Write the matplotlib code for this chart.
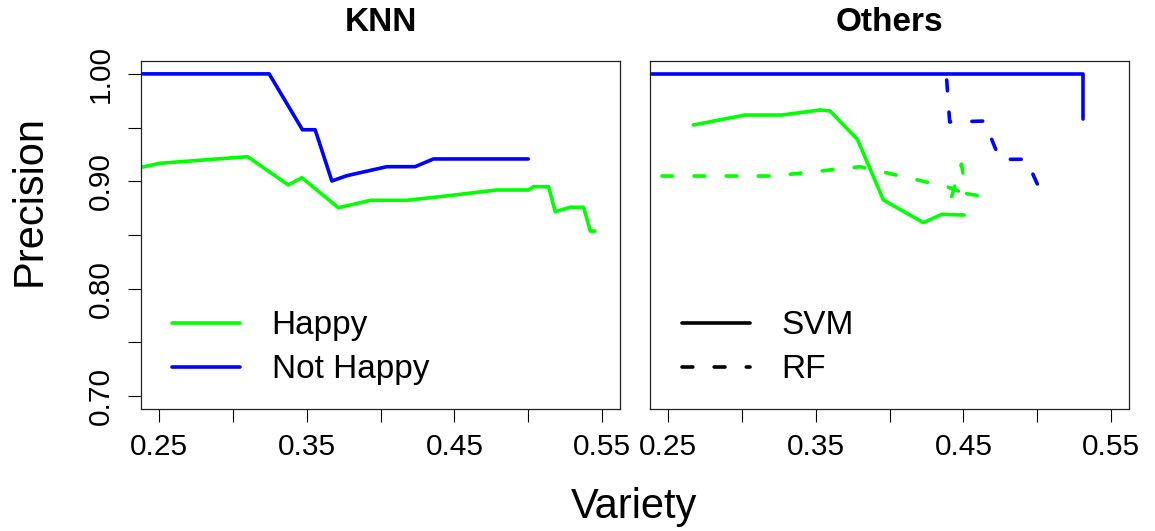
import matplotlib
matplotlib.use("Agg")
import matplotlib.pyplot as plt
from matplotlib.lines import Line2D

plt.rcParams["font.family"] = ["Liberation Sans", "DejaVu Sans"]

GREEN = "#00ff00"
BLUE = "#0000ff"

# KNN panel
knn_happy_x = [0.235, 0.2509, 0.3102, 0.3377, 0.3468, 0.3715, 0.3935, 0.4178, 0.4404,
               0.4787, 0.5001, 0.5035, 0.5137, 0.5182, 0.5283, 0.5374, 0.5419, 0.5450]
knn_happy_y = [0.9121, 0.9168, 0.9229, 0.8966, 0.9034, 0.8754, 0.8823, 0.8823, 0.8857,
               0.8919, 0.8919, 0.8950, 0.8950, 0.8717, 0.8758, 0.8758, 0.8537, 0.8537]
knn_nothappy_x = [0.235, 0.3247, 0.3472, 0.3558, 0.3671, 0.3772, 0.4043, 0.4234, 0.4358, 0.5000]
knn_nothappy_y = [1.0, 1.0, 0.948, 0.948, 0.9003, 0.9052, 0.9136, 0.9136, 0.9208, 0.9208]

# Others panel: SVM (solid) and RF (dashed)
svm_happy_x = [0.2673, 0.3023, 0.3271, 0.3531, 0.3598, 0.3783, 0.3959, 0.4230, 0.4354, 0.4505]
svm_happy_y = [0.9524, 0.9617, 0.9617, 0.9664, 0.9655, 0.9391, 0.8826, 0.8615, 0.8693, 0.8686]
svm_nothappy_x = [0.235, 0.5308, 0.5308]
svm_nothappy_y = [1.0, 1.0, 0.958]
rf_happy_x = [0.246, 0.3215, 0.3801, 0.4390, 0.4512, 0.4420, 0.4487, 0.4519, 0.4636]
rf_happy_y = [0.9049, 0.9049, 0.9136, 0.8949, 0.8886, 0.8858, 0.9161, 0.8886, 0.8858]
rf_nothappy_x = [0.4387, 0.4407, 0.4641, 0.4746, 0.4925, 0.5040]
rf_nothappy_y = [0.9943, 0.9552, 0.9561, 0.9205, 0.9205, 0.8851]

x_ticks = [0.25, 0.30, 0.35, 0.40, 0.45, 0.50, 0.55]
x_labels = ["0.25", "", "0.35", "", "0.45", "", "0.55"]
y_ticks = [0.70, 0.75, 0.80, 0.85, 0.90, 0.95, 1.00]
y_labels = ["0.70", "", "0.80", "", "0.90", "", "1.00"]

LW = 2.6
DASH = (0, (3.0, 5.9))


def style_axis(ax, show_y):
    ax.set_xlim(0.238, 0.562)
    ax.set_ylim(0.688, 1.012)
    ax.set_xticks(x_ticks)
    ax.set_xticklabels(x_labels)
    ax.tick_params(axis="x", length=9.1, width=0.8, pad=8.3, labelsize=21.5)
    if show_y:
        ax.set_yticks(y_ticks)
        ax.set_yticklabels(y_labels, rotation=90, va="center")
        ax.tick_params(axis="y", length=9.1, width=0.8, pad=10, labelsize=21.5)
    else:
        ax.set_yticks([])
    for s in ax.spines.values():
        s.set_linewidth(0.9)
        s.set_color("#222222")


def main():
    fig = plt.figure(figsize=(11.55, 5.31), dpi=100)
    ax1 = fig.add_axes([0.12208, 0.22976, 0.41472, 0.65537])
    ax2 = fig.add_axes([0.56277, 0.22976, 0.41472, 0.65537])

    leg_kw = dict(loc="center left", frameon=False, fontsize=24, handlelength=2.04,
                  handletextpad=0.95, labelspacing=0.39, borderpad=0, borderaxespad=0)

    # left: KNN
    ax1.plot(knn_happy_x, knn_happy_y, color=GREEN, lw=LW, solid_capstyle="round",
             solid_joinstyle="round", label="Happy")
    ax1.plot(knn_nothappy_x, knn_nothappy_y, color=BLUE, lw=LW, solid_capstyle="round",
             solid_joinstyle="round", label="Not Happy")
    style_axis(ax1, True)
    ax1.set_title("KNN", fontsize=24, fontweight="bold", pad=21.8)
    ax1.legend(bbox_to_anchor=(0.0647, 0.176), **leg_kw)

    # right: SVM / RF
    kw = dict(lw=LW, solid_capstyle="round", solid_joinstyle="round",
              dash_capstyle="round", dash_joinstyle="round")
    ax2.plot(svm_happy_x, svm_happy_y, color=GREEN, **kw)
    ax2.plot(svm_nothappy_x, svm_nothappy_y, color=BLUE, **kw)
    ax2.plot(rf_happy_x, rf_happy_y, color=GREEN, ls=DASH, **kw)
    ax2.plot(rf_nothappy_x, rf_nothappy_y, color=BLUE, ls=DASH, **kw)
    style_axis(ax2, False)
    ax2.set_title("Others", fontsize=24, fontweight="bold", pad=21.8)
    handles = [Line2D([], [], color="black", **kw),
               Line2D([], [], color="black", ls=DASH, **kw)]
    ax2.legend(handles, ["SVM", "RF"], bbox_to_anchor=(0.0662, 0.176), **leg_kw)

    fig.text(0.549, 0.0239, "Variety", fontsize=30, ha="center", va="baseline")
    fig.text(0.026, 0.622, "Precision", fontsize=30, rotation=90, ha="center", va="center")

    fig.savefig("out.png", dpi=100)
    plt.close(fig)


if __name__ == "__main__":
    main()
